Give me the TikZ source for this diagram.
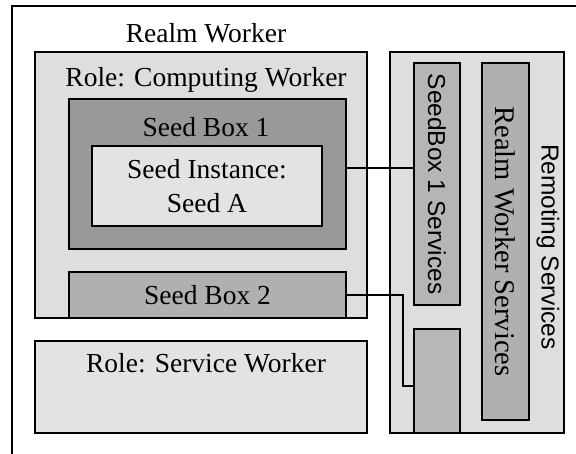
\documentclass[tikz,border=0pt]{standalone}
\usepackage{fontspec}
\setmainfont{Liberation Serif}
\newfontfamily\labelsans{Liberation Sans}
\usetikzlibrary{calc}

\tikzset{
	box/.style={draw, line width=1.6pt, inner sep=0pt, outer sep=0pt, anchor=north west},
	lbl/.style={font=\fontsize{27.5}{34}\selectfont, inner sep=0pt, align=center},
	vlbl/.style={font=\labelsans\fontsize{24.5}{30}\selectfont, inner sep=0pt, rotate=-90},
	wire/.style={line width=1.5pt}
}

\begin{document}
\begin{tikzpicture}[x=1pt,y=-1pt]
	\useasboundingbox (0,0) rectangle (576,454);
	% outer frame, open at the bottom and right
	\draw[line width=1.3pt] (576,6) -- (12,6) -- (12,454);
	% boxes: name/left/top/width/height/fill
	\foreach \n/\x/\y/\w/\h/\c in {
		cw/35/52/332/266/black!13,
		sb1/69/99/277/150/black!40,
		inst/92/146/230/80/black!11,
		sb2/69/272/277/46/black!31,
		sw/35/341/332/92/black!11,
		rs/390/52/174/381/black!13,
		sbs/414/63/46/242/black!29,
		rws/482/63/47/357/black!31,
		sbx/414/329/46/104/black!28}
		\node[box, fill=\c, minimum width=\w pt, minimum height=\h pt] (\n) at (\x,\y) {};
	% texts
	\node[lbl] (realm) at (206,33) {Realm Worker};
	\node[lbl] at (206,80) {Role: Computing Worker};
	\node[lbl] at (206,127) {Seed Box 1};
	\node[lbl] at (inst.center) {Seed Instance:\\Seed A};
	\node[lbl] at (sb2.center) {Seed Box 2};
	\node[lbl] at (206,363) {Role: Service Worker};
	\node[vlbl] at (sbs.center) {SeedBox 1 Services};
	\node[lbl, rotate=-90, font=\fontsize{28.5}{34}\selectfont] at (rws.center) {Realm Worker Services};
	\node[vlbl] at (548,247) {Remoting Services};
	% links to the remoting services
	\path (0,168) coordinate (l1) (403,386) coordinate (bend);
	\draw[wire] (sb1.east |- l1) -- (sbs.west |- l1);
	\draw[wire] (sb2.east) -| (bend) -- (sbx.west |- bend);
\end{tikzpicture}
\end{document}
